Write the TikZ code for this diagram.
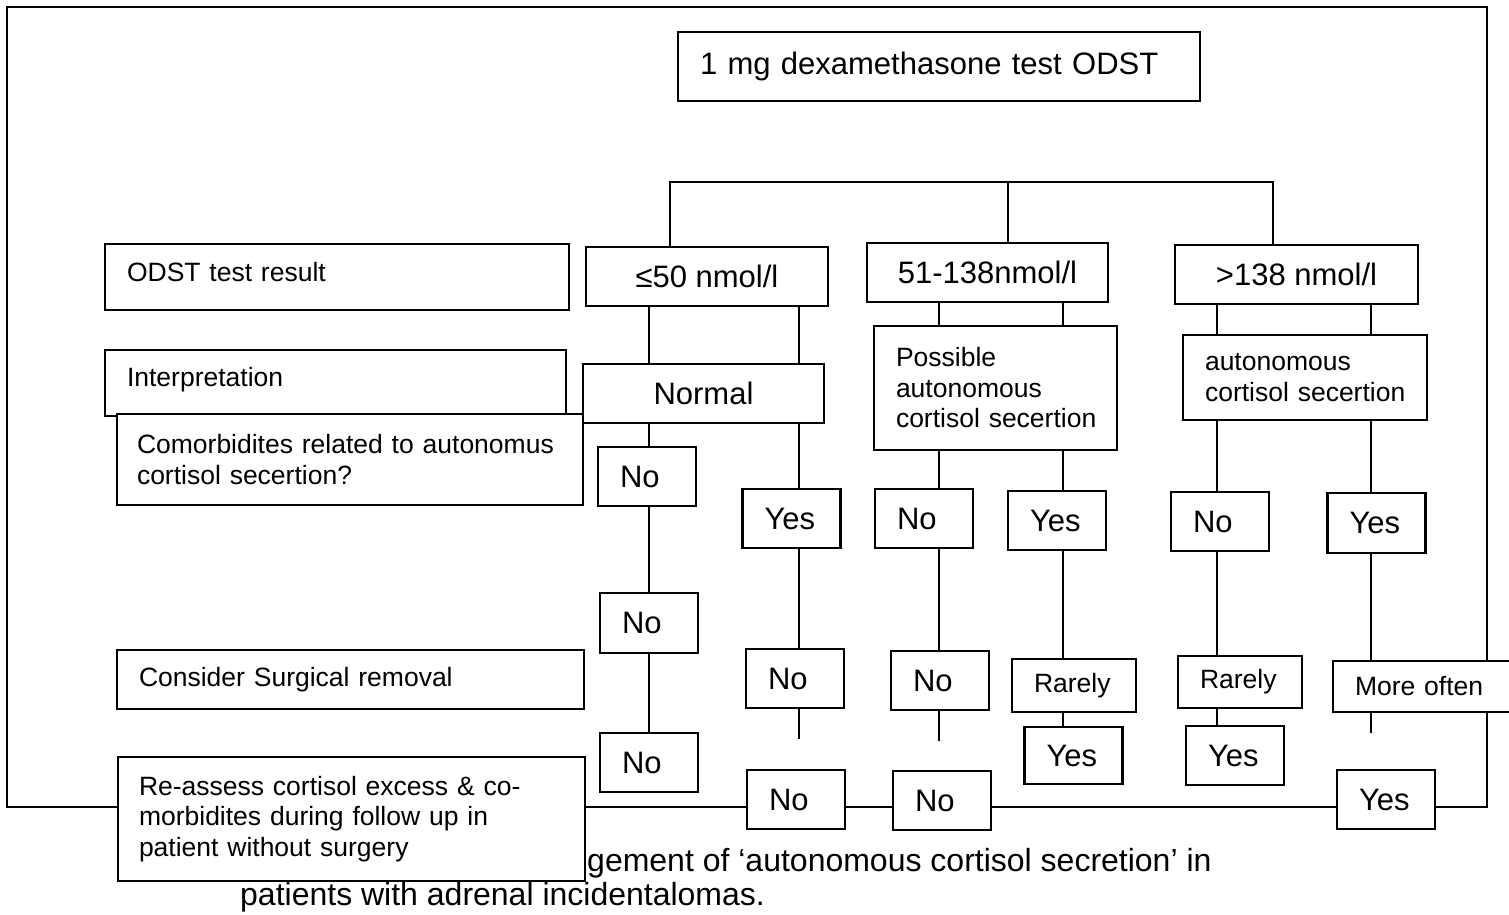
\documentclass[tikz,border=0pt]{standalone}
\usepackage{fontspec}
\setmainfont{Liberation Sans}
\usetikzlibrary{calc}
\hyphenpenalty=10000
\exhyphenpenalty=10000

\begin{document}
\begin{tikzpicture}[x=1pt, y=-1pt, inner sep=0pt,
  box/.style={draw, fill=white, line width=2.4pt},
  lbox/.style={box, align=left, inner xsep=22pt, text width=#1},
  cbox/.style={box, minimum width=#1},
  big/.style={font=\fontsize{31}{35}\selectfont},
  sm/.style={font=\fontsize{26.5}{30.5}\selectfont},
  ans/.style={lbox=54pt, big, minimum height=59pt},
  wire/.style={line width=1.6pt}]
\useasboundingbox (0,0) rectangle (1509,914);

% frame round the chart
\draw[line width=2pt] (7,7) rectangle (1487,807);

\coordinate (cA1) at (649,0);
\coordinate (cA2) at (799,0);
\coordinate (cB1) at (939,0);
\coordinate (cB2) at (1063,0);
\coordinate (cC1) at (1217,0);
\coordinate (cC2) at (1371,0);
\coordinate (brL) at (670,182);
\coordinate (brM) at (1008,182);
\coordinate (brR) at (1273,182);
\coordinate (eA) at (799,739);
\coordinate (eB) at (939,741);
\coordinate (eC) at (1371,733);

\node[anchor=base west, font=\fontsize{32}{36}\selectfont] (cap1) at (587,871) {gement of `autonomous cortisol secretion' in};
\node[anchor=base west, font=\fontsize{32}{36}\selectfont] (cap2) at (240,905) {patients with adrenal incidentalomas.};

\node[lbox=478pt, big, minimum height=69pt] (odst) at (939,66.5) {1 mg dexamethasone test ODST};

% row labels
\node[lbox=420pt, sm, minimum height=66pt, text depth=11pt] (res) at (337,277) {ODST test result};
\node[lbox=417pt, sm, minimum height=66pt, text depth=13pt] (interp) at (335.5,383) {Interpretation};
\node[lbox=426pt, inner xsep=20pt, sm, minimum height=91pt] (comorb) at (350,459.5) {Comorbidites related to autonomus\\cortisol secertion?};
\node[lbox=423pt, sm, minimum height=59pt] (surg) at (350.5,679.5) {Consider Surgical removal};
\node[lbox=425pt, inner xsep=21pt, sm, minimum height=124pt] (reass) at (351.5,819) {Re-assess cortisol excess \& co-\\morbidites during follow up in\\patient without surgery};

% results
\node[cbox=242pt, big, minimum height=59pt] (le50) at (707,276.5) {≤50 nmol/l};
\node[cbox=241pt, big, minimum height=59pt] (mid) at (987.5,272.5) {51-138nmol/l};
\node[cbox=243pt, big, minimum height=59pt] (gt138) at (1296.5,274.5) {>138 nmol/l};
\node[cbox=241pt, big, minimum height=59pt] (normal) at (703.5,393.5) {Normal};
\node[lbox=199pt, sm, minimum height=124pt] (poss) at (995.5,388) {Possible\\autonomous\\cortisol~secertion};
\node[lbox=200pt, sm, minimum height=85pt] (aut) at (1305,377.5) {autonomous\\cortisol~secertion};

% answers
\node[ans] (noA1) at (647,476.5) {No};
\node[ans] (yesA1) at (791.5,518.5) {Yes};
\node[ans] (noB1) at (924,518.5) {No};
\node[ans] (yesB1) at (1057,520.5) {Yes};
\node[ans] (noC1) at (1220,521.5) {No};
\node[ans, minimum height=60pt] (yesC1) at (1376.5,523) {Yes};
\node[ans, minimum height=60pt] (noA2) at (649,623) {No};
\node[ans] (noA4) at (795,678.5) {No};
\node[ans] (noB2) at (940,680.5) {No};
\node[lbox=80pt, sm, minimum height=53pt] (rarB) at (1074,685.5) {Rarely};
\node[lbox=80pt, sm, minimum height=52pt] (rarC) at (1240,682) {Rarely};
\node[lbox=153pt, sm, minimum height=51pt] (more) at (1431.5,686.5) {More often};
\node[ans] (noA3) at (649,762.5) {No};
\node[ans, minimum height=57pt] (yesB2) at (1073.5,755.5) {Yes};
\node[ans] (yesC2) at (1235,755.5) {Yes};
\node[ans] (noA5) at (796,799.5) {No};
\node[ans] (noB3) at (942,800.5) {No};
\node[ans] (yesC3) at (1386,799.5) {Yes};

% bracket under the test
\draw[wire] (le50.north -| brL) -- (brL) -- (brR) -- (gt138.north -| brR);
\draw[wire] (brM) -- (mid.north -| brM);

% <=50
\draw[wire] (le50.south -| cA1) -- (normal.north -| cA1);
\draw[wire] (normal.south -| cA1) -- (noA1.north -| cA1);
\draw[wire] (noA1.south -| cA1) -- (noA2.north -| cA1);
\draw[wire] (noA2.south -| cA1) -- (noA3.north -| cA1);
\draw[wire] (le50.south -| cA2) -- (normal.north -| cA2);
\draw[wire] (normal.south -| cA2) -- (yesA1.north -| cA2);
\draw[wire] (yesA1.south -| cA2) -- (noA4.north -| cA2);
\draw[wire] (noA4.south -| cA2) -- (eA);

% 51-138
\draw[wire] (mid.south -| cB1) -- (poss.north -| cB1);
\draw[wire] (poss.south -| cB1) -- (noB1.north -| cB1);
\draw[wire] (noB1.south -| cB1) -- (noB2.north -| cB1);
\draw[wire] (noB2.south -| cB1) -- (eB);
\draw[wire] (mid.south -| cB2) -- (poss.north -| cB2);
\draw[wire] (poss.south -| cB2) -- (yesB1.north -| cB2);
\draw[wire] (yesB1.south -| cB2) -- (rarB.north -| cB2);
\draw[wire] (rarB.south -| cB2) -- (yesB2.north -| cB2);

% >138
\draw[wire] (gt138.south -| cC1) -- (aut.north -| cC1);
\draw[wire] (aut.south -| cC1) -- (noC1.north -| cC1);
\draw[wire] (noC1.south -| cC1) -- (rarC.north -| cC1);
\draw[wire] (rarC.south -| cC1) -- (yesC2.north -| cC1);
\draw[wire] (gt138.south -| cC2) -- (aut.north -| cC2);
\draw[wire] (aut.south -| cC2) -- (yesC1.north -| cC2);
\draw[wire] (yesC1.south -| cC2) -- (more.north -| cC2);
\draw[wire] (more.south -| cC2) -- (eC);
\end{tikzpicture}
\end{document}
